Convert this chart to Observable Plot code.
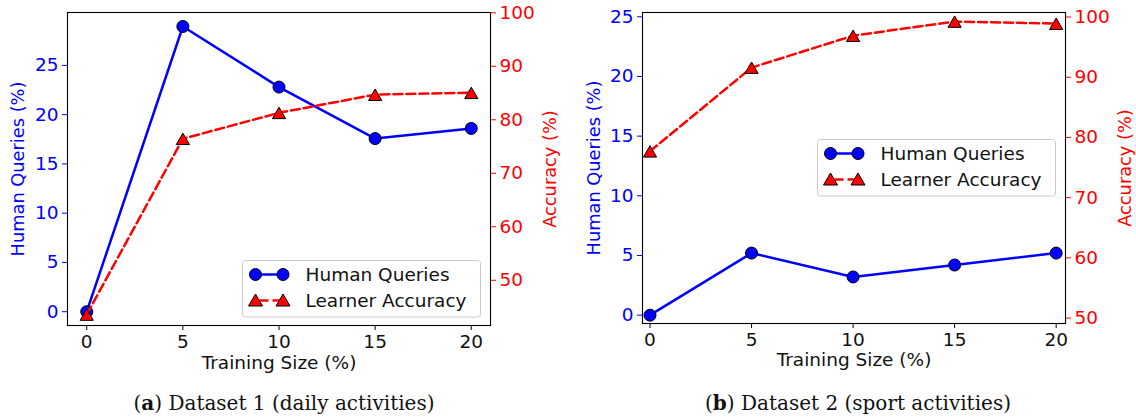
<!DOCTYPE html>
<html>
<head>
<meta charset="utf-8">
<script src="https://cdn.jsdelivr.net/npm/d3@7"></script>
<script src="https://cdn.jsdelivr.net/npm/@observablehq/plot@0.6"></script>
<style>
  html, body { margin: 0; padding: 0; background: white; }
  #root { position: relative; width: 1136px; height: 419px; background: white; overflow: hidden; }
  .panel { position: absolute; top: 0; }
  .layer { position: absolute; left: 0; top: 0; }
  .caption { position: absolute; font-family: "DejaVu Serif", serif; font-size: 20px; color: #111; white-space: nowrap; transform: translate(-50%, -50%); }
  .legend { position: absolute; }
</style>
</head>
<body>
<div id="root"></div>
<script>
// ---- data ----
const trainingSize = [0, 5, 10, 15, 20];
const queries1 = [0, 28.95, 22.8, 17.57, 18.6];
const accuracy1 = [43.6, 76.45, 81.3, 84.7, 85.05];
const queries2 = [0, 5.2, 3.2, 4.2, 5.2];
const accuracy2 = [77.7, 91.6, 96.9, 99.25, 98.9];
const xTicks = [0, 5, 10, 15, 20];
const queryTicks1 = [0, 5, 10, 15, 20, 25];
const queryTicks2 = [0, 5, 10, 15, 20, 25];
const accTicks = [50, 60, 70, 80, 90, 100];
const seriesNames = ["Human Queries", "Learner Accuracy"];
const captions = [["a", " Dataset 1 (daily activities)"], ["b", " Dataset 2 (sport activities)"]];
const xLabel = "Training Size (%)";
const qLabel = "Human Queries (%)";
const aLabel = "Accuracy (%)";

const root = document.getElementById("root");
const FONT = "DejaVu Sans";
const FS = 18.5;   // horizontal texts
const FSR = 17.8;  // rotated axis labels

function panel(cfg) {
  const data = trainingSize.map((t, i) => ({t, q: cfg.q[i], a: cfg.a[i]}));
  const wrap = document.createElement("div");
  wrap.className = "panel";
  wrap.style.left = cfg.left + "px";
  wrap.style.width = cfg.width + "px";
  wrap.style.height = "380px";
  root.appendChild(wrap);
  const common = {
    width: cfg.width, height: 380,
    marginLeft: cfg.ml, marginRight: cfg.mr, marginTop: cfg.mt, marginBottom: cfg.mb,
    style: {fontFamily: FONT, fontSize: FS + "px", background: "transparent", overflow: "visible"}
  };
  const A = Plot.plot({
    ...common,
    x: {domain: cfg.xd},
    y: {domain: cfg.qd},
    marks: [
      Plot.axisX({ticks: xTicks, tickSize: 5, tickPadding: 4.5, label: null, stroke: "black", fill: "#111", fontSize: FS, fontFamily: FONT, tickFormat: d => d}),
      Plot.axisY({ticks: cfg.qt, tickSize: 5, tickPadding: 4, label: null, stroke: "blue", fill: "blue", fontSize: FS, fontFamily: FONT, tickFormat: d => d}),
      Plot.line(data, {x: "t", y: "q", stroke: "blue", strokeWidth: 2.5}),
      Plot.dot(data, {x: "t", y: "q", r: 6, fill: "blue", stroke: "black", strokeWidth: 1}),
      Plot.text([qLabel], {frameAnchor: "left", textAnchor: "middle", lineAnchor: "middle", rotate: -90, dx: cfg.qdx, fill: "blue", fontSize: FSR, fontFamily: FONT}),
      Plot.text([xLabel], {frameAnchor: "bottom", textAnchor: "middle", lineAnchor: "middle", dy: cfg.xdy, fill: "#111", fontSize: FS, fontFamily: FONT})
    ]
  });
  A.classList.add("layer");
  wrap.appendChild(A);
  const B = Plot.plot({
    ...common,
    x: {domain: cfg.xd, axis: null},
    y: {domain: cfg.ad},
    marks: [
      Plot.axisY({anchor: "right", ticks: accTicks, tickSize: 5, tickPadding: 4, label: null, stroke: "red", fill: "red", fontSize: FS, fontFamily: FONT, tickFormat: d => d}),
      Plot.line(data, {x: "t", y: "a", stroke: "red", strokeWidth: 2.5, strokeDasharray: "9,4"}),
      Plot.dot(data, {x: "t", y: "a", r: 4.9, symbol: "triangle", fill: "red", stroke: "black", strokeWidth: 1, dy: 2}),
      Plot.text([aLabel], {frameAnchor: "right", textAnchor: "middle", lineAnchor: "middle", rotate: -90, dx: cfg.adx, fill: "red", fontSize: FSR, fontFamily: FONT}),
      Plot.frame({stroke: "black", strokeWidth: 1.1})
    ]
  });
  B.classList.add("layer");
  wrap.appendChild(B);

  // legend
  const lg = d3.create("svg")
    .attr("class", "legend")
    .attr("width", 240).attr("height", 60)
    .style("left", cfg.lgx + "px").style("top", cfg.lgy + "px")
    .style("position", "absolute");
  lg.append("rect").attr("x", 0.5).attr("y", 0.5).attr("width", 238).attr("height", 56.5)
    .attr("rx", 3).attr("fill", "white").attr("fill-opacity", 0.85).attr("stroke", "#cccccc");
  const rows = [14.5, 40.5];
  const mx = [13.5, 41];
  lg.append("line").attr("x1", mx[0]).attr("x2", mx[1]).attr("y1", rows[0]).attr("y2", rows[0])
    .attr("stroke", "blue").attr("stroke-width", 2.5);
  mx.forEach(x => lg.append("circle").attr("cx", x).attr("cy", rows[0]).attr("r", 6)
    .attr("fill", "blue").attr("stroke", "black"));
  lg.append("line").attr("x1", mx[0]).attr("x2", mx[1]).attr("y1", rows[1]).attr("y2", rows[1])
    .attr("stroke", "red").attr("stroke-width", 2.5).attr("stroke-dasharray", "9,4").attr("stroke-dashoffset", -4);
  mx.forEach(x => lg.append("path")
    .attr("d", `M${x},${rows[1] - 6.5}L${x + 7},${rows[1] + 5.5}L${x - 7},${rows[1] + 5.5}Z`)
    .attr("fill", "red").attr("stroke", "black"));
  seriesNames.forEach((n, i) => lg.append("text").attr("x", 63.5).attr("y", rows[i])
    .attr("dy", "0.36em").attr("font-family", FONT).attr("font-size", FS).attr("fill", "#111").text(n));
  root.appendChild(lg.node());

  const cap = document.createElement("div");
  cap.className = "caption";
  cap.style.left = cfg.capx + "px";
  cap.style.top = "403px";
  cap.innerHTML = "(<b>" + cfg.cap[0] + "</b>)" + cfg.cap[1];
  root.appendChild(cap);
}

panel({
  left: 0, width: 570,
  ml: 67, mr: 80, mt: 12, mb: 55,
  xd: [-1, 21], qd: [-1.4, 30.37], ad: [41.55, 100.05],
  q: queries1, a: accuracy1, qt: queryTicks1,
  qdx: -49, adx: 60, xdy: 38,
  lgx: 242, lgy: 259.5,
  capx: 284, cap: captions[0]
});
panel({
  left: 570, width: 566,
  ml: 72, mr: 71, mt: 12, mb: 57,
  xd: [-0.37, 20.46], qd: [-0.7, 25.36], ad: [49.1, 100.75],
  q: queries2, a: accuracy2, qt: queryTicks2,
  qdx: -48.5, adx: 60, xdy: 36.5,
  lgx: 816.5, lgy: 138.5,
  capx: 858, cap: captions[1]
});
</script>
</body>
</html>
